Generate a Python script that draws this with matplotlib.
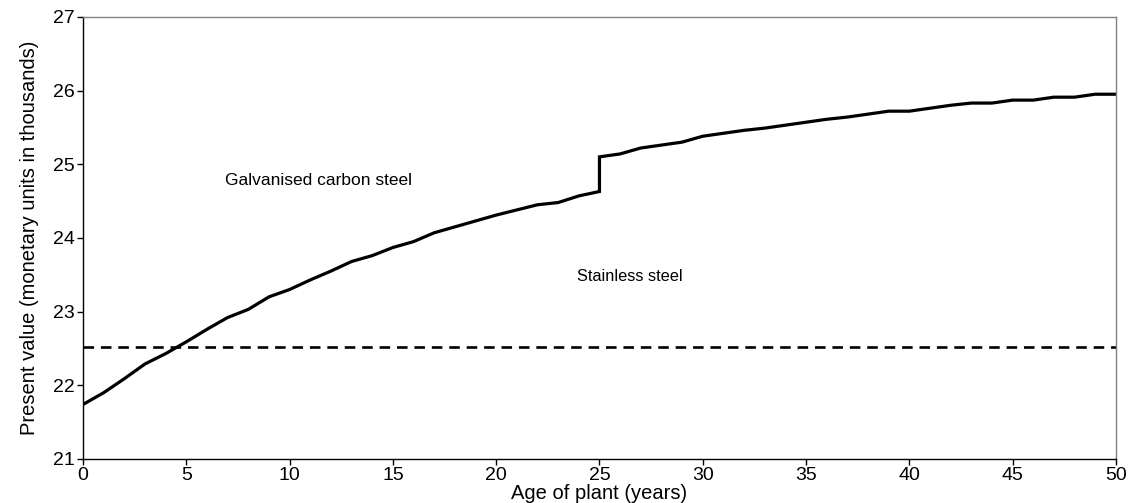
import matplotlib
matplotlib.use("Agg")
import matplotlib.pyplot as plt

plt.rcParams['font.family'] = ['Liberation Sans', 'DejaVu Sans']

years = list(range(0, 51))
galvanised = [21.74, 21.90, 22.09, 22.29, 22.43, 22.59, 22.76, 22.92, 23.03, 23.20,
              23.30, 23.43, 23.55, 23.68, 23.76, 23.87, 23.95, 24.07, 24.15, 24.23,
              24.31, 24.38, 24.45, 24.48, 24.57, 24.63, 25.14, 25.22, 25.26, 25.30,
              25.38, 25.42, 25.46, 25.49, 25.53, 25.57, 25.61, 25.64, 25.68, 25.72,
              25.72, 25.76, 25.80, 25.83, 25.83, 25.87, 25.87, 25.91, 25.91, 25.95,
              25.95]
jump_year = 25
jump_top = 25.10
stainless = 22.52

# build the step at year 25 (vertical jump)
xs, ys = [], []
for x, y in zip(years, galvanised):
    if x == jump_year + 1:
        xs.append(jump_year); ys.append(jump_top)
    xs.append(x); ys.append(y)

fig = plt.figure(figsize=(11.30, 5.03), dpi=100)
ax = fig.add_axes([0.0735, 0.0875, 0.914, 0.879])

ax.plot(xs, ys, color='black', lw=2.3, solid_joinstyle='miter')
ax.axhline(stainless, color='black', lw=1.9, dashes=(4, 2.6))

ax.set_xlim(0, 50)
ax.set_ylim(21, 27)
ax.set_xticks(range(0, 51, 5))
ax.set_yticks(range(21, 28))

for s in ['left', 'bottom']:
    ax.spines[s].set_color('black')
    ax.spines[s].set_linewidth(1.0)
for s in ['top', 'right']:
    ax.spines[s].set_color('#808080')
    ax.spines[s].set_linewidth(1.0)

ax.tick_params(direction='out', length=4, width=1.0, labelsize=14, color='black',
               top=False, right=False, pad=2)
ax.set_xlabel('Age of plant (years)', fontsize=14.5, labelpad=0)
ax.set_ylabel('Present value (monetary units in thousands)', fontsize=14.5, labelpad=10)

ax.text(6.85, 24.78, 'Galvanised carbon steel', fontsize=12.5, ha='left', va='center')
ax.text(23.9, 23.48, 'Stainless steel', fontsize=11.8, ha='left', va='center')

fig.savefig('out.png', dpi=100)
